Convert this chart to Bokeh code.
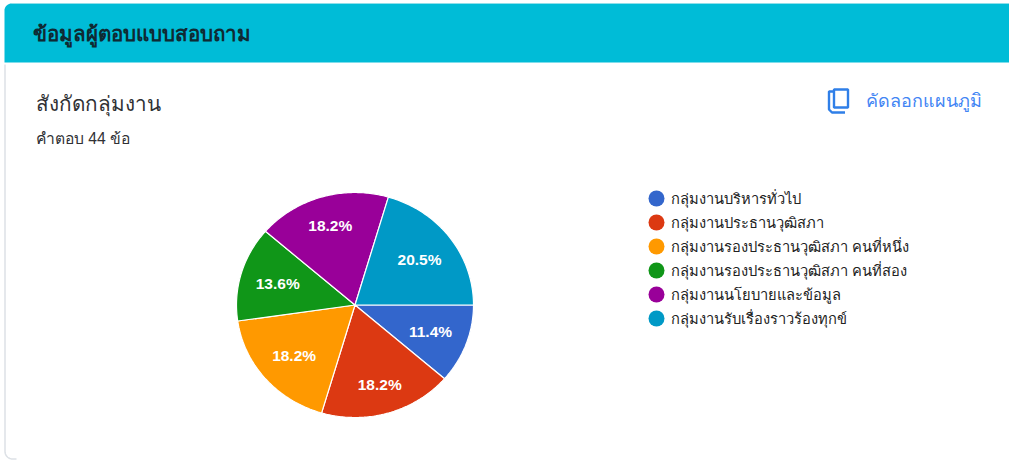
import numpy as np
from bokeh.plotting import figure
from bokeh.models import Range1d
from bokeh.core.properties import value
from bokeh.embed import file_html
from bokeh.resources import INLINE

categories = ["กลุ่มงานบริหารทั่วไป", "กลุ่มงานประธานวุฒิสภา", "กลุ่มงานรองประธานวุฒิสภา คนที่หนึ่ง",
              "กลุ่มงานรองประธานวุฒิสภา คนที่สอง", "กลุ่มงานนโยบายและข้อมูล", "กลุ่มงานรับเรื่องราวร้องทุกข์"]
counts = [5, 8, 8, 6, 8, 9]
colors = ["#3366CC", "#DC3912", "#FF9900", "#109618", "#990099", "#0099C6"]
header_title = "ข้อมูลผู้ตอบแบบสอบถาม"
chart_title = "สังกัดกลุ่มงาน"
answers = "คำตอบ 44 ข้อ"
copy_label = "คัดลอกแผนภูมิ"
label_radius = [0.68, 0.74, 0.68, 0.68, 0.74, 0.68]

W, H = 1009, 460
FONT = value("Liberation Sans")
p = figure(width=W, height=H, output_backend="svg", toolbar_location=None,
           x_range=Range1d(0, W), y_range=Range1d(H, 0), min_border=0)
p.axis.visible = False
p.grid.visible = False
p.outline_line_color = None
p.background_fill_color = "white"
p.border_fill_color = "white"


def corner(cx, cy, r, a0, a1):
    t = np.radians(np.linspace(a0, a1, 10))
    return list(cx + r * np.cos(t)), list(cy + r * np.sin(t))


# card outline
xa, ya = corner(12, 451, 7.5, 180, 90)
p.line([4.5, 4.5] + xa + [16], [64, 451] + ya + [458.5], line_color="#dde1e6", line_width=1.5)

# header band
xa, ya = corner(11, 10, 7, 180, 270)
p.patch([4] + xa + [W, W, 4], [62] + ya + [3, 62, 62], fill_color="#00BCD7", line_color=None)
p.line([11, W], [3, 3], line_color="#8fdfea", line_width=1)

# pie
cx, cy, rx, ry = 354.5, 304.5, 118.5, 112.5
vals = np.array(counts, dtype=float)
frac = vals / vals.sum()
edges = np.concatenate([[0], np.cumsum(frac)]) * 2 * np.pi
xs, ys, lx, ly, lab = [], [], [], [], []
for i in range(len(vals)):
    t = np.linspace(edges[i], edges[i + 1], 80)
    xs.append([cx] + list(cx + rx * np.cos(t)))
    ys.append([cy] + list(cy + ry * np.sin(t)))
    m = (edges[i] + edges[i + 1]) / 2
    lx.append(cx + label_radius[i] * rx * np.cos(m))
    ly.append(cy + label_radius[i] * ry * np.sin(m))
    lab.append(f"{frac[i] * 100:.1f}%")
p.patches(xs, ys, fill_color=colors, line_color="white", line_width=1.2)
p.text(lx, ly, text=lab, text_color="white", text_font=FONT, text_font_size="15.5px",
       text_font_style="bold", text_align="center", text_baseline="middle")

# legend
ly2 = [198 + 24 * i for i in range(len(categories))]
p.scatter([656] * len(categories), ly2, size=16, color=colors, line_color=None)
p.text([670.5] * len(categories), ly2, text=categories, text_color="#222222", text_font=FONT,
       text_font_size="14.7px", text_baseline="middle")

# titles
p.text([32], [33], text=[header_title], text_color="#0f2a33", text_font=FONT, text_font_size="20.5px",
       text_font_style="bold", text_baseline="middle")
p.text([35], [102.5], text=[chart_title], text_color="#303134", text_font=FONT, text_font_size="20.7px",
       text_baseline="middle")
p.text([35.5], [137.5], text=[answers], text_color="#303134", text_font=FONT, text_font_size="15.7px",
       text_baseline="middle")
p.text([865.5], [100], text=[copy_label], text_color="#4285F4", text_font=FONT, text_font_size="18px",
       text_baseline="middle")

# copy icon
p.line([833.5, 828.5, 828.5, 831.5, 844.5], [91, 91, 109, 112, 112], line_color="#2f7fe8", line_width=2.4)
p.quad(left=[833.5], right=[847.5], top=[89], bottom=[107], fill_color=None, line_color="#2f7fe8", line_width=2.4)

open("out.html", "w").write(file_html(p, INLINE))
